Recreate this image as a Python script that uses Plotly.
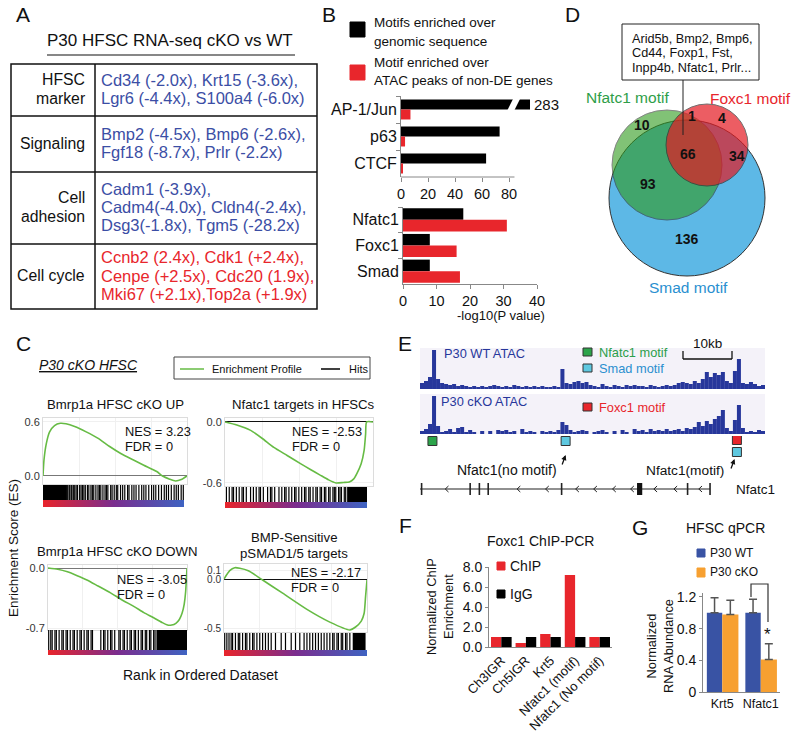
import plotly.graph_objects as go

W, H = 800, 733
FONT = "Liberation Sans, Arial, Helvetica, sans-serif"
BLACK = "#111111"
RED = "#e8262c"
TBLUE = "#3b4ea5"
GREEN_LINE = "#66bb44"
NAVY = "#27379b"
G_BLUE = "#3953a4"
G_ORANGE = "#f7a031"

def P(x): return x / W
def Q(y): return 1 - y / H
def DX(a, b): return [a / W, b / W]
def DY(top, bottom): return [1 - bottom / H, 1 - top / H]

# ======================= DATA =======================
# Panel A
a_title = "P30 HFSC RNA-seq cKO vs WT"
a_categories = [["HFSC", "marker"], ["Signaling"], ["Cell", "adhesion"], ["Cell cycle"]]
a_genes = [
    ["Cd34 (-2.0x), Krt15 (-3.6x),", "Lgr6 (-4.4x), S100a4 (-6.0x)"],
    ["Bmp2 (-4.5x), Bmp6 (-2.6x),", "Fgf18 (-8.7x), Prlr (-2.2x)"],
    ["Cadm1 (-3.9x),", "Cadm4(-4.0x), Cldn4(-2.4x),", "Dsg3(-1.8x), Tgm5 (-28.2x)"],
    ["Ccnb2 (2.4x), Cdk1 (+2.4x),", "Cenpe (+2.5x), Cdc20 (1.9x),", "Mki67 (+2.1x),Top2a (+1.9x)"],
]
a_direction = ["down", "down", "down", "up"]

# Panel B
b_top_motifs = ["AP-1/Jun", "p63", "CTCF"]
b_top_genomic = [283, 73, 63]
b_top_atac = [7, 3, 1]
b_bottom_motifs = ["Nfatc1", "Foxc1", "Smad"]
b_bottom_genomic = [18, 8, 8]
b_bottom_atac = [31, 16, 17]
b_top_ticks = [0, 20, 40, 60, 80]
b_bottom_ticks = [0, 10, 20, 30, 40]
b_legend = [["Motifs enriched over", "genomic sequence"], ["Motif enriched over", "ATAC peaks of non-DE genes"]]

# Panel C (GSEA)
gsea_titles = [["Bmrp1a HFSC cKO UP"], ["Nfatc1 targets in HFSCs"], ["Bmrp1a HFSC cKO DOWN"], ["BMP-Sensitive", "pSMAD1/5 targets"]]
gsea_nes = ["3.23", "-2.53", "-3.05", "-2.17"]
gsea_fdr = ["0", "0", "0", "0"]
gsea_rank = [
    [0, 0.007, 0.023, 0.046, 0.08, 0.12, 0.16, 0.22, 0.30, 0.38, 0.46, 0.54, 0.625, 0.70, 0.79, 0.83, 0.88, 0.92, 0.96, 1.0],
    [0, 0.08, 0.17, 0.25, 0.33, 0.42, 0.51, 0.58, 0.64, 0.70, 0.75, 0.80, 0.84, 0.87, 0.89, 0.92, 0.94, 0.95, 0.957, 1.0],
    [0, 0.07, 0.14, 0.21, 0.28, 0.36, 0.45, 0.53, 0.62, 0.69, 0.76, 0.82, 0.86, 0.89, 0.92, 0.945, 0.965, 0.98, 0.99, 1.0],
    [0, 0.04, 0.075, 0.11, 0.17, 0.27, 0.41, 0.58, 0.74, 0.88, 0.92, 0.96, 0.98, 0.99, 1.0],
]
gsea_es = [
    [0, 0.18, 0.36, 0.49, 0.56, 0.585, 0.58, 0.55, 0.49, 0.42, 0.33, 0.25, 0.18, 0.12, 0.05, 0.0, -0.035, -0.055, -0.04, 0.0],
    [0, -0.03, -0.08, -0.16, -0.25, -0.33, -0.41, -0.47, -0.52, -0.57, -0.60, -0.595, -0.59, -0.56, -0.51, -0.41, -0.28, -0.12, 0.0, 0.0],
    [0, -0.015, -0.045, -0.09, -0.14, -0.21, -0.29, -0.37, -0.45, -0.52, -0.58, -0.635, -0.665, -0.665, -0.645, -0.60, -0.525, -0.42, -0.28, 0.0],
    [0.01, 0.095, 0.125, 0.12, 0.095, 0.0, -0.135, -0.30, -0.43, -0.51, -0.48, -0.42, -0.34, -0.17, 0.0],
]
gsea_yticks = [[0.6, 0.0], [0.0, -0.6], [0.0, -0.7], [0.1, 0.0, -0.5]]
gsea_hits = [
    [0.175, 0.185, 0.19, 0.2, 0.205, 0.215, 0.225, 0.235, 0.245, 0.26, 0.27, 0.28, 0.29, 0.3, 0.315, 0.325, 0.34,
     0.35, 0.36, 0.375, 0.39, 0.4, 0.41, 0.425, 0.44, 0.45, 0.46, 0.48, 0.49, 0.505, 0.52, 0.53, 0.55, 0.565, 0.58,
     0.6, 0.61, 0.63, 0.645, 0.66, 0.68, 0.7, 0.715, 0.73, 0.75, 0.77, 0.785, 0.8, 0.82, 0.84, 0.86, 0.875, 0.89,
     0.91, 0.93, 0.945, 0.96, 0.98, 0.995],
    [0.01, 0.03, 0.05, 0.06, 0.08, 0.1, 0.12, 0.13, 0.15, 0.18, 0.2, 0.22, 0.24, 0.25, 0.27, 0.3, 0.32, 0.33, 0.35,
     0.38, 0.4, 0.42, 0.43, 0.45, 0.47, 0.49, 0.5, 0.52, 0.54, 0.56, 0.57, 0.59, 0.6, 0.62, 0.64, 0.65, 0.67, 0.68,
     0.7, 0.71, 0.73, 0.74, 0.76, 0.77, 0.78, 0.8, 0.81, 0.82, 0.84, 0.85],
    [0.005, 0.02, 0.03, 0.05, 0.06, 0.08, 0.1, 0.11, 0.13, 0.14, 0.16, 0.18, 0.19, 0.21, 0.23, 0.24, 0.26, 0.28,
     0.29, 0.31, 0.32, 0.38, 0.4, 0.41, 0.43, 0.45, 0.46, 0.48, 0.51, 0.52, 0.54, 0.55, 0.57, 0.59, 0.6, 0.62, 0.63,
     0.65, 0.67, 0.68, 0.7, 0.71, 0.73, 0.74, 0.76, 0.77],
    [0.005, 0.02, 0.035, 0.05, 0.06, 0.08, 0.1, 0.11, 0.13, 0.15, 0.16, 0.18, 0.2, 0.21, 0.23, 0.25, 0.27, 0.29,
     0.31, 0.33, 0.36, 0.4, 0.43, 0.47, 0.5, 0.53, 0.56, 0.58, 0.6, 0.62, 0.64, 0.66, 0.68, 0.7, 0.72, 0.74, 0.76,
     0.77, 0.79, 0.8, 0.82, 0.83, 0.85, 0.86, 0.88],
]
gsea_hit_blocks = [[(0.0, 0.17)], [(0.86, 1.0)], [(0.78, 1.0)], [(0.9, 0.99)]]

# Panel D (Venn)
venn_sets = ["Nfatc1 motif", "Foxc1 motif", "Smad motif"]
venn_regions = ["Nfatc1 only", "Nfatc1+Foxc1", "Foxc1 only", "All three", "Foxc1+Smad", "Nfatc1+Smad", "Smad only"]
venn_counts = [10, 1, 4, 66, 34, 93, 136]
venn_genes = ["Arid5b, Bmp2, Bmp6,", "Cd44, Foxp1, Fst,", "Inpp4b, Nfatc1, Prlr..."]

# Panel E (ATAC tracks, 86 genomic bins)
e_wt = [6, 8, 12, 39, 10, 6, 5, 4, 5, 3, 4, 3, 2, 3, 2, 3, 2, 3, 4, 3, 2, 3, 2, 4, 3, 2, 3, 2, 3, 2,
        3, 2, 2, 3, 2, 20, 6, 5, 7, 8, 6, 7, 4, 3, 2, 5, 3, 2, 4, 3, 2, 4, 3, 4, 3, 3, 2, 4, 3, 2,
        3, 4, 3, 4, 6, 7, 6, 5, 8, 6, 10, 17, 12, 16, 14, 17, 8, 6, 18, 30, 6, 5, 7, 5, 3, 4]
e_cko = [3, 5, 10, 38, 8, 2, 3, 5, 2, 6, 7, 2, 4, 2, 0, 3, 0, 3, 0, 4, 3, 4, 2, 3, 0, 5, 2, 3, 2, 0,
         3, 2, 3, 2, 4, 12, 9, 4, 2, 3, 4, 3, 0, 2, 3, 4, 2, 0, 3, 0, 4, 2, 0, 5, 3, 4, 2, 5, 3, 4,
         3, 5, 3, 4, 5, 3, 6, 5, 7, 12, 8, 13, 10, 15, 18, 24, 6, 3, 14, 29, 6, 2, 3, 2, 4, 3]
e_nfatc1_motif_bins = [3.1]
e_smad_motif_bins = [36.3, 79.0]
e_smad_motif_rows = [0, 1]
e_foxc1_motif_bins = [79.0]
e_gene_span = [0.0, 72.3]
e_exon_ticks = [0.4, 12.5, 14.8, 17.0, 35.3, 66.7, 72.3]
e_big_exon = [54.1, 55.4]
e_chevrons = [6.3, 24.2, 31.3, 38.8, 43.3, 48.0, 52.5, 58.3, 63.3, 69.5]

# Panel F
f_cats = ["Ch3IGR", "Ch5IGR", "Krt5", "Nfatc1 (motif)", "Nfatc1 (No motif)"]
f_chip = [1.0, 0.4, 1.3, 7.2, 1.0]
f_igg = [1.0, 1.0, 1.0, 1.0, 1.0]
f_ticks = [0, 2, 4, 6, 8]

# Panel G
g_cats = ["Krt5", "Nfatc1"]
g_wt = [1.0, 1.0]
g_wt_err = [0.19, 0.17]
g_cko = [0.98, 0.41]
g_cko_err = [0.18, 0.2]
g_ticks = [0, 0.4, 0.8, 1.2]
g_ticktext = ["0", "0.4", "0.8", "1.2"]

# ======================= FIGURE =======================
fig = go.Figure()
ann, shp = [], []
lay = {}

def text(x, y, s, size=14, color=BLACK, xanchor="center", yanchor="middle", **kw):
    ann.append(dict(x=P(x), y=Q(y), xref="paper", yref="paper", text=s, showarrow=False,
                    font=dict(family=FONT, size=size, color=color), xanchor=xanchor, yanchor=yanchor, **kw))

def rect(x0, y0, x1, y1, fill="rgba(0,0,0,0)", line=BLACK, lw=1):
    shp.append(dict(type="rect", xref="paper", yref="paper", x0=P(x0), x1=P(x1), y0=Q(y1), y1=Q(y0),
                    fillcolor=fill, line=dict(color=line, width=lw)))

def seg(x0, y0, x1, y1, color=BLACK, lw=1):
    shp.append(dict(type="line", xref="paper", yref="paper", x0=P(x0), x1=P(x1), y0=Q(y0), y1=Q(y1),
                    line=dict(color=color, width=lw)))

def circle(cx, cy, r, fill, opacity):
    shp.append(dict(type="circle", xref="paper", yref="paper", x0=P(cx - r), x1=P(cx + r), y0=Q(cy + r),
                    y1=Q(cy - r), fillcolor=fill, opacity=opacity, line=dict(color="#333333", width=1)))

def ax(n):
    return ("xaxis" if n == 1 else f"xaxis{n}", "yaxis" if n == 1 else f"yaxis{n}",
            "x" if n == 1 else f"x{n}", "y" if n == 1 else f"y{n}")

LET = 21  # panel letter size

# ---------- Panel A ----------
text(23, 15, "A", LET)
text(170, 41, a_title, 17)
seg(47, 55, 295, 55, lw=1.2)
row_b = [64, 116, 172, 244, 309]
rect(11, 64, 317, 309, lw=1.5)
for yb in row_b[1:-1]:
    seg(11, yb, 317, yb, lw=1.5)
seg(95, 64, 95, 309, lw=1.5)
for i in range(4):
    c = (row_b[i] + row_b[i + 1]) / 2 - 1
    labs = a_categories[i]
    for j, s in enumerate(labs):
        text(87, c + (j - (len(labs) - 1) / 2) * 18.5, s, 15.8, xanchor="right")
    genes = a_genes[i]
    col = TBLUE if a_direction[i] == "down" else RED
    for j, s in enumerate(genes):
        text(99, c + (j - (len(genes) - 1) / 2) * 18.5, s, 16.5, color=col, xanchor="left")

# ---------- Panel B ----------
text(329, 15, "B", LET)
rect(350, 22, 365, 37, fill="black", line="black")
rect(350, 65, 365, 80, fill=RED, line=RED)
text(372, 23, b_legend[0][0], 13.5, xanchor="left")
text(372, 42, b_legend[0][1], 13.5, xanchor="left")
text(372, 62, b_legend[1][0], 13.5, xanchor="left")
text(372, 80, b_legend[1][1], 13.5, xanchor="left")

xa, ya, xr, yr = ax(1)
fig.add_trace(go.Bar(x=b_top_genomic, y=b_top_motifs, orientation="h", marker=dict(color="black", line_width=0),
                     width=0.37, offset=-0.37, xaxis=xr, yaxis=yr))
fig.add_trace(go.Bar(x=b_top_atac, y=b_top_motifs, orientation="h", marker=dict(color=RED, line_width=0),
                     width=0.37, offset=0, xaxis=xr, yaxis=yr))
lay[xa] = dict(domain=DX(401, 530), range=[0, 95.5], tickvals=b_top_ticks, ticks="outside", ticklen=4,
               tickcolor="#888", showline=False, showgrid=False, zeroline=False, anchor=yr,
               tickfont=dict(family=FONT, size=14.5, color=BLACK))
lay[ya] = dict(domain=DY(96, 177), type="category", categoryorder="array", categoryarray=b_top_motifs,
               range=[2.5, -0.5], showline=True, linecolor="#888", ticks="outside", tickson="boundaries",
               ticklen=4, tickcolor="#888", showgrid=False, zeroline=False, anchor=xr,
               tickfont=dict(family=FONT, size=16, color=BLACK))
shp.append(dict(type="line", xref=xr, yref="paper", x0=0, x1=84, y0=Q(177), y1=Q(177),
                line=dict(color="#888", width=1)))
# axis break on the off-scale bar
shp.append(dict(type="path", xref="paper", yref="paper",
                path=f"M {P(507)},{Q(111)} L {P(514)},{Q(111)} L {P(521)},{Q(97)} L {P(514)},{Q(97)} Z",
                fillcolor="white", line=dict(width=0)))
text(532, 104, str(b_top_genomic[0]), 15, xanchor="left")

xa, ya, xr, yr = ax(2)
fig.add_trace(go.Bar(x=b_bottom_genomic, y=b_bottom_motifs, orientation="h", marker=dict(color="black", line_width=0),
                     width=0.45, offset=-0.45, xaxis=xr, yaxis=yr))
fig.add_trace(go.Bar(x=b_bottom_atac, y=b_bottom_motifs, orientation="h", marker=dict(color=RED, line_width=0),
                     width=0.45, offset=0, xaxis=xr, yaxis=yr))
lay[xa] = dict(domain=DX(403, 537), range=[0, 40], tickvals=b_bottom_ticks, ticks="outside", ticklen=4,
               tickcolor="#888", showline=True, linecolor="#888", showgrid=False, zeroline=False, anchor=yr,
               tickfont=dict(family=FONT, size=14.5, color=BLACK))
lay[ya] = dict(domain=DY(207, 284), type="category", categoryorder="array", categoryarray=b_bottom_motifs,
               range=[2.5, -0.5], showline=True, linecolor="#888", ticks="outside", tickson="boundaries",
               ticklen=4, tickcolor="#888", showgrid=False, zeroline=False, anchor=xr,
               tickfont=dict(family=FONT, size=16, color=BLACK))
text(501, 315, "-log10(P value)", 13)

# ---------- Panel C ----------
text(23, 343, "C", LET)
text(88, 365, "<i><u>P30 cKO HFSC</u></i>", 14)
rect(174, 357, 370, 379, line="#444", lw=1)
seg(180, 369, 204, 369, color=GREEN_LINE, lw=1.5)
text(210, 369, "Enrichment Profile", 11, xanchor="left")
seg(321, 369, 340, 369, color="black", lw=1.5)
text(347, 369, "Hits", 11, xanchor="left")

gsea_geom = [
    dict(es_x=(43, 187), st_x=(43, 184), es_y=(418, 484), yr=[-0.089, 0.644], st_y=(485, 507), cb=7,
         title_xy=(116, 404), nes_xy=(123, 432), zc="#777", tf=11),
    dict(es_x=(225, 373), st_x=(225, 367), es_y=(418, 486), yr=[-0.63, 0.039], st_y=(487, 508), cb=6,
         title_xy=(303, 404), nes_xy=(290, 432), zc="#111", tf=11),
    dict(es_x=(48, 187), st_x=(48, 187), es_y=(565, 630), yr=[-0.723, 0.035], st_y=(630, 655), cb=5,
         title_xy=(117, 551), nes_xy=(115, 579), zc="#777", tf=11),
    dict(es_x=(224, 367), st_x=(224, 367), es_y=(564, 632), yr=[-0.531, 0.163], st_y=(633, 656), cb=6,
         title_xy=(294, 537), nes_xy=(289, 572), zc="#111", tf=10),
]
for k, g in enumerate(gsea_geom):
    n = 3 + k
    xa, ya, xr, yr = ax(n)
    fig.add_trace(go.Scatter(x=gsea_rank[k], y=gsea_es[k], mode="lines",
                             line=dict(color=GREEN_LINE, width=1.6, shape="spline", smoothing=0.6),
                             xaxis=xr, yaxis=yr))
    lay[xa] = dict(domain=DX(*g["es_x"]), range=[0, 1], showticklabels=False, ticks="", showgrid=True,
                   gridcolor="#f0f0f0", dtick=0.25, zeroline=False, showline=True, mirror=True,
                   linecolor="#dcdcdc", anchor=yr)
    lay[ya] = dict(domain=DY(*g["es_y"]), range=g["yr"], tickvals=gsea_yticks[k],
                   ticktext=[f"{v:.1f}" for v in gsea_yticks[k]], ticks="", showgrid=True, gridcolor="#f0f0f0",
                   zeroline=True, zerolinecolor=g["zc"], zerolinewidth=1.3, showline=True, mirror=True,
                   linecolor="#dcdcdc", anchor=xr, tickfont=dict(family=FONT, size=g["tf"], color="#333"))
    # hits strip
    n2 = 7 + k
    xa2, ya2, xr2, yr2 = ax(n2)
    split = g["cb"] / (g["st_y"][1] - g["st_y"][0])
    hx, hy = [], []
    for h in gsea_hits[k]:
        hx += [h, h, None]
        hy += [split, 1, None]
    fig.add_trace(go.Scatter(x=hx, y=hy, mode="lines", line=dict(color="black", width=1.2),
                             xaxis=xr2, yaxis=yr2))
    for (b0, b1) in gsea_hit_blocks[k]:
        shp.append(dict(type="rect", xref=xr2, yref=yr2, x0=b0, x1=b1, y0=split, y1=1,
                        fillcolor="black", line=dict(width=0)))
    fig.add_trace(go.Scatter(x=[0, 1, 1, 0, 0], y=[0, 0, split, split, 0], mode="lines", fill="toself",
                             line=dict(width=0), fillgradient=dict(type="horizontal",
                             colorscale=[[0, "#e8242b"], [0.5, "#7b2d8e"], [1, "#3e63c2"]]),
                             xaxis=xr2, yaxis=yr2))
    lay[xa2] = dict(domain=DX(*g["st_x"]), range=[0, 1], visible=False, anchor=yr2)
    lay[ya2] = dict(domain=DY(*g["st_y"]), range=[0, 1], visible=False, anchor=xr2)
    # titles and stats
    tl = gsea_titles[k]
    tx, ty = g["title_xy"]
    for j, s in enumerate(tl):
        text(tx, ty + j * 16, s, 13.2)
    nx, ny = g["nes_xy"]
    text(nx, ny, f"NES = {gsea_nes[k]}", 12.8, xanchor="left")
    text(nx, ny + 15, f"FDR = {gsea_fdr[k]}", 12.8, xanchor="left")

text(13, 548, "Enrichment Score (ES)", 13.5, textangle=-90)
text(200, 675, "Rank in Ordered Dataset", 14)

# ---------- Panel D ----------
text(572, 15, "D", LET)
circle(687, 198, 78, "#5db8e6", 1.0)
circle(667, 165, 55, "#2f9a1c", 0.6)
circle(707, 145, 41, "#e41a22", 0.7)
venn_pos = [(642, 125), (692, 116), (722, 118), (688, 154), (737, 156), (648, 184), (687, 239)]
for (vx, vy), cnt in zip(venn_pos, venn_counts):
    text(vx, vy, f"<b>{cnt}</b>", 14)
text(627, 97, venn_sets[0], 15.5, color="#2e9e48")
text(750, 98, venn_sets[1], 15.5, color=RED)
text(688, 287, venn_sets[2], 15.5, color="#2a8fd0")
rect(622, 24, 759, 80, fill="white", line="#222", lw=1)
for j, s in enumerate(venn_genes):
    text(630, 39 + j * 14.5, s, 12.7, xanchor="left")
seg(683, 80, 683, 135, color="#222", lw=1)

# ---------- Panel E ----------
text(405, 343, "E", LET)
e_bins = [i + 0.5 for i in range(len(e_wt))]
for n, vals, dom, top in [(11, e_wt, (348, 389), 41), (12, e_cko, (394, 434), 40)]:
    xa, ya, xr, yr = ax(n)
    shp.append(dict(type="rect", xref=f"{xr} domain", yref=f"{yr} domain", x0=0, x1=1, y0=0, y1=1,
                    fillcolor="#f4f2f9", line=dict(width=0), layer="below"))
    fig.add_trace(go.Bar(x=e_bins, y=vals, width=1, marker=dict(color=NAVY, line_width=0), xaxis=xr, yaxis=yr))
    lay[xa] = dict(domain=DX(420, 765), range=[0, 86], visible=False, anchor=yr)
    lay[ya] = dict(domain=DY(*dom), range=[0, top], visible=False, anchor=xr)
text(442, 353, "P30 WT ATAC", 12.8, color=NAVY, xanchor="left")
text(439, 401, "P30 cKO ATAC", 12.8, color=NAVY, xanchor="left")
rect(583, 348, 592, 356, fill="#2ca44a", line="#333")
text(597, 352, "Nfatc1 motif", 12.8, color="#2b9e4a", xanchor="left")
rect(583, 364, 592, 372, fill="#5ec8e0", line="#333")
text(597, 368, "Smad motif", 12.8, color="#2b8fcf", xanchor="left")
rect(583, 403, 592, 411, fill=RED, line="#333")
text(597, 407, "Foxc1 motif", 12.8, color=RED, xanchor="left")
seg(683, 359, 732, 359, lw=1.3)
seg(683, 351, 683, 359, lw=1.3)
seg(732, 351, 732, 359, lw=1.3)
text(707, 343, "10kb", 13.5)

xa, ya, xr, yr = ax(13)
row_y = [441, 452]
fig.add_trace(go.Scatter(x=e_nfatc1_motif_bins, y=[row_y[0]] * len(e_nfatc1_motif_bins), mode="markers",
                         marker=dict(symbol="square", size=9, color="#2ca44a", line=dict(color="#333", width=1)),
                         xaxis=xr, yaxis=yr))
fig.add_trace(go.Scatter(x=e_smad_motif_bins, y=[row_y[r] for r in e_smad_motif_rows], mode="markers",
                         marker=dict(symbol="square", size=9, color="#5ec8e0", line=dict(color="#333", width=1)),
                         xaxis=xr, yaxis=yr))
fig.add_trace(go.Scatter(x=e_foxc1_motif_bins, y=[row_y[0] - 1] * len(e_foxc1_motif_bins), mode="markers",
                         marker=dict(symbol="square", size=9, color=RED, line=dict(color="#333", width=1)),
                         xaxis=xr, yaxis=yr))
lay[xa] = dict(domain=DX(420, 765), range=[0, 86], visible=False, anchor=yr)
lay[ya] = dict(domain=DY(436, 500), range=[500, 436], visible=False, anchor=xr)
gy = 489
shp.append(dict(type="line", xref=xr, yref=yr, x0=e_gene_span[0], x1=e_gene_span[1], y0=gy, y1=gy,
                line=dict(color="#222", width=1.2)))
for e in e_exon_ticks:
    shp.append(dict(type="line", xref=xr, yref=yr, x0=e, x1=e, y0=gy - 6, y1=gy + 6,
                    line=dict(color="#222", width=1.6)))
shp.append(dict(type="rect", xref=xr, yref=yr, x0=e_big_exon[0], x1=e_big_exon[1], y0=gy - 6, y1=gy + 6,
                fillcolor="#111", line=dict(width=0)))
for c in e_chevrons:
    shp.append(dict(type="path", xref=xr, yref=yr, path=f"M {c + 0.8},{gy - 3} L {c},{gy} L {c + 0.8},{gy + 3}",
                    line=dict(color="#222", width=1)))
ann.append(dict(x=e_smad_motif_bins[0], y=455, xref=xr, yref=yr, ax=-4, ay=11, showarrow=True, arrowhead=2,
                arrowsize=0.8, arrowwidth=1.3, arrowcolor="#111", text=""))
ann.append(dict(x=e_foxc1_motif_bins[0] - 0.6, y=459, xref=xr, yref=yr, ax=-4, ay=11, showarrow=True, arrowhead=2,
                arrowsize=0.8, arrowwidth=1.3, arrowcolor="#111", text=""))
text(507, 470, "Nfatc1(no motif)", 14)
text(685, 470, "Nfatc1(motif)", 13.7)
text(755, 489, "Nfatc1", 13.5)

# ---------- Panel F ----------
text(405, 525, "F", LET)
text(540, 541, "Foxc1 ChIP-PCR", 14)
xa, ya, xr, yr = ax(14)
fig.add_trace(go.Bar(x=f_cats, y=f_chip, width=0.42, offset=-0.42, marker=dict(color=RED, line_width=0),
                     xaxis=xr, yaxis=yr))
fig.add_trace(go.Bar(x=f_cats, y=f_igg, width=0.42, offset=0, marker=dict(color="black", line_width=0),
                     xaxis=xr, yaxis=yr))
lay[xa] = dict(domain=DX(489, 612), type="category", categoryorder="array", categoryarray=f_cats,
               showline=True, linecolor="#888", ticks="", tickangle=-45, showgrid=False, zeroline=False,
               anchor=yr, tickfont=dict(family=FONT, size=13, color=BLACK))
lay[ya] = dict(domain=DY(567, 647), range=[0, 8], tickvals=f_ticks, tickformat=".1f", showline=True,
               linecolor="#888", ticks="outside", ticklen=3, tickcolor="#888", showgrid=False, zeroline=False,
               anchor=xr, tickfont=dict(family=FONT, size=14, color=BLACK))
text(440, 607, "Normalized ChIP<br>Enrichment", 12.8, textangle=-90)
rect(497, 562, 505, 570, fill=RED, line=RED)
text(508, 566, "ChIP", 14, xanchor="left")
rect(497, 590, 505, 598, fill="black", line="black")
text(508, 594, "IgG", 14, xanchor="left")

# ---------- Panel G ----------
text(640, 527, "G", LET)
text(725, 528, "HFSC qPCR", 14)
xa, ya, xr, yr = ax(15)
fig.add_trace(go.Bar(x=g_cats, y=g_wt, width=0.4, offset=-0.4, marker=dict(color=G_BLUE, line_width=0),
                     error_y=dict(type="data", array=g_wt_err, arrayminus=[0] * len(g_wt), symmetric=False,
                                  color="#555", thickness=1.5, width=4),
                     xaxis=xr, yaxis=yr))
fig.add_trace(go.Bar(x=g_cats, y=g_cko, width=0.42, offset=0, marker=dict(color=G_ORANGE, line_width=0),
                     error_y=dict(type="data", array=g_cko_err, arrayminus=[0] * len(g_cko), symmetric=False,
                                  color="#555", thickness=1.5, width=4),
                     xaxis=xr, yaxis=yr))
lay[xa] = dict(domain=DX(703, 780), type="category", categoryorder="array", categoryarray=g_cats,
               showline=True, linecolor="#888", ticks="", showgrid=False, zeroline=False, anchor=yr,
               tickfont=dict(family=FONT, size=12.5, color=BLACK))
lay[ya] = dict(domain=DY(593, 692), range=[0, 1.25], tickvals=g_ticks, ticktext=g_ticktext, showline=True,
               linecolor="#888", ticks="outside", ticklen=3, tickcolor="#888", showgrid=False, zeroline=False,
               anchor=xr, tickfont=dict(family=FONT, size=14, color=BLACK))
text(660, 646, "Normalized<br>RNA Abundance", 12.8, textangle=-90)
rect(697, 549, 705, 557, fill=G_BLUE, line=G_BLUE)
text(708, 553, "P30 WT", 12, xanchor="left")
rect(697, 568, 705, 577, fill=G_ORANGE, line=G_ORANGE)
text(708, 572, "P30 cKO", 12, xanchor="left")
shp.append(dict(type="path", xref="paper", yref="paper",
                path=f"M {P(751)},{Q(597)} L {P(751)},{Q(584)} L {P(768)},{Q(584)} L {P(768)},{Q(622)}",
                line=dict(color="#333", width=1.2)))
text(767, 634, "*", 17)

for k in list(lay.keys()):
    lay[k]["automargin"] = False

fig.update_layout(width=W, height=H, margin=dict(l=0, r=0, t=0, b=0, pad=0, autoexpand=False),
                  paper_bgcolor="white", plot_bgcolor="rgba(0,0,0,0)", showlegend=False, barmode="overlay",
                  font=dict(family=FONT, color=BLACK), annotations=ann, shapes=shp, **lay)
fig.write_html("out.html", config={"displayModeBar": False},
               post_script="document.body.style.margin='0px';document.body.style.padding='0px';"
                           "document.body.style.overflow='hidden';")
